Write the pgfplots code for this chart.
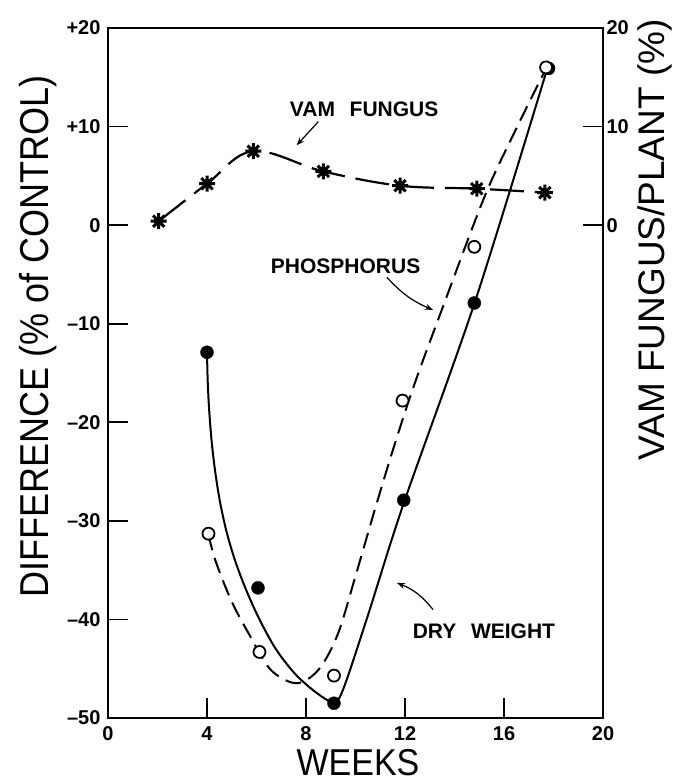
\documentclass[border=0pt]{standalone}
\usepackage{pgfplots}
\pgfplotsset{compat=1.18}
\usepackage{fontspec}
\setmainfont{Liberation Sans}
\usetikzlibrary{arrows.meta}

\pgfdeclareplotmark{burst}{%
  \pgfpathcircle{\pgfpoint{0pt}{0pt}}{0.6\pgfplotmarksize}%
  \pgfusepathqfill
  \pgfsetlinewidth{3pt}%
  \pgfpathmoveto{\pgfpoint{-\pgfplotmarksize}{0pt}}\pgfpathlineto{\pgfpoint{\pgfplotmarksize}{0pt}}%
  \pgfpathmoveto{\pgfpoint{0pt}{-\pgfplotmarksize}}\pgfpathlineto{\pgfpoint{0pt}{\pgfplotmarksize}}%
  \pgfpathmoveto{\pgfpoint{-0.707\pgfplotmarksize}{-0.707\pgfplotmarksize}}\pgfpathlineto{\pgfpoint{0.707\pgfplotmarksize}{0.707\pgfplotmarksize}}%
  \pgfpathmoveto{\pgfpoint{-0.707\pgfplotmarksize}{0.707\pgfplotmarksize}}\pgfpathlineto{\pgfpoint{0.707\pgfplotmarksize}{-0.707\pgfplotmarksize}}%
  \pgfusepathqstroke
}

\begin{document}
\begin{tikzpicture}[x=1pt,y=1pt]
\useasboundingbox (-108,-65) rectangle (566,718);
\begin{axis}[
  at={(0,0)}, anchor=south west,
  width=495pt, height=690pt, scale only axis,
  xmin=0, xmax=20, ymin=-50, ymax=20,
  axis line style={-, line width=1.8pt},
  xtick={0,4,8,12,16,20}, xticklabels={0,4,8,12,16,20},
  ytick={-50,-40,-30,-20,-10,0,10,20},
  yticklabels={–50,–40,–30,–20,–10,0,+10,+20},
  ytick pos=left, xtick pos=bottom,
  tick align=inside, major tick length=20pt,
  tick style={line width=1.6pt, black},
  ticklabel style={font=\bfseries\fontsize{20}{20}\selectfont},
  yticklabel style={xshift=-4pt},
  xticklabel style={yshift=-5pt},
  xlabel={\scalebox{1}[1.1]{WEEKS}},
  xlabel style={at={(axis description cs:0.505,-0.064)}, anchor=center, font=\fontsize{34}{34}\selectfont},
  ylabel={\scalebox{1}[1.12]{DIFFERENCE (\% of CONTROL)}},
  ylabel style={at={(axis description cs:-0.1414,0.553)}, anchor=center, font=\fontsize{36}{36}\selectfont},
]
% dry weight curve (solid)
\addplot[black, line width=2pt, smooth, tension=0.5] coordinates {
 (4,-13)(4.031,-16)(4.094,-19)(4.19,-22)(4.33,-25)(4.52,-28)(4.78,-31)(5.13,-34)
 (5.58,-37)(6.12,-40)(6.78,-43)(7.55,-45.5)(8.35,-47.3)(9.1,-48.4)
 (9.5,-47.1)(10.5,-39.6)(11.95,-28.2)(14.85,-7.6)(17.75,15.9)};
% phosphorus curve (dashed)
\addplot[black, line width=2pt, dash pattern=on 16pt off 8pt, smooth, tension=0.55] coordinates {
 (4.06,-31.4)(4.35,-34.1)(5.0,-38.2)(5.7,-41.5)(6.5,-44.9)(7.3,-46.3)(7.9,-46.3)
 (8.6,-44.8)(9.3,-41.4)(10.0,-35.6)(10.8,-28.7)(11.6,-22.1)(12.4,-16.0)(13.5,-8.5)
 (15.2,2.8)(16.4,9.3)(17.7,15.9)};
% dry weight points
\addplot[only marks, mark=*, mark size=6.5pt, black] coordinates {
 (4,-12.9)(6.06,-36.8)(9.13,-48.5)(11.95,-27.9)(14.8,-7.9)(17.8,15.9)};
% phosphorus points
\addplot[only marks, mark=*, mark size=6pt, mark options={solid, fill=white, draw=black, line width=1.8pt}] coordinates {
 (4.06,-31.3)(6.12,-43.3)(9.13,-45.7)(11.9,-17.8)(14.8,-2.2)(17.7,16.0)};
% annotations
\node[font=\bfseries\fontsize{21}{21}\selectfont] at (axis cs:10.35,11.8) {VAM\hspace{0.7em}FUNGUS};
\node[font=\bfseries\fontsize{21}{21}\selectfont] at (axis cs:9.6,-4.2) {PHOSPHORUS};
\node[font=\bfseries\fontsize{21}{21}\selectfont] at (axis cs:15.19,-41.2) {DRY\hspace{0.7em}WEIGHT};
\draw[-{Stealth[length=8pt,width=6pt]}, line width=1.2pt] (axis cs:8.5,10.5) -- (axis cs:7.62,8.1);
\draw[-{Stealth[length=8pt,width=6pt]}, line width=1.2pt] (axis cs:11.27,-5.3) to[bend right=12] (axis cs:13.13,-8.6);
\draw[-{Stealth[length=8pt,width=6pt]}, line width=1.2pt] (axis cs:13.13,-39.0) to[bend right=15] (axis cs:11.68,-36.3);
\end{axis}
\begin{axis}[
  at={(0,0)}, anchor=south west,
  width=495pt, height=690pt, scale only axis,
  xmin=0, xmax=20, ymin=-50, ymax=20,
  axis x line=none, axis y line*=right,
  axis line style={-, line width=1.8pt},
  xtick=\empty,
  ytick={0,10,20}, yticklabels={0,10,20},
  tick align=inside, major tick length=20pt,
  tick style={line width=1.6pt, black},
  ticklabel style={font=\bfseries\fontsize{20}{20}\selectfont},
  ylabel={VAM FUNGUS/PLANT (\%)},
  ylabel style={at={(axis description cs:1.104,0.693)}, anchor=center, font=\fontsize{37}{37}\selectfont},
]
\addplot[black, line width=2.2pt, dash pattern=on 34pt off 11pt, smooth, tension=0.6] coordinates {
 (2.05,0.4)(4,4.2)(5.87,7.5)(8.7,5.45)(11.8,4.0)(14.9,3.7)(17.65,3.3)};
\addplot[only marks, mark=burst, mark size=8pt, black] coordinates {
 (2.05,0.4)(4,4.2)(5.87,7.5)(8.7,5.45)(11.8,4.0)(14.9,3.7)(17.65,3.3)};
\end{axis}
\end{tikzpicture}
\end{document}
